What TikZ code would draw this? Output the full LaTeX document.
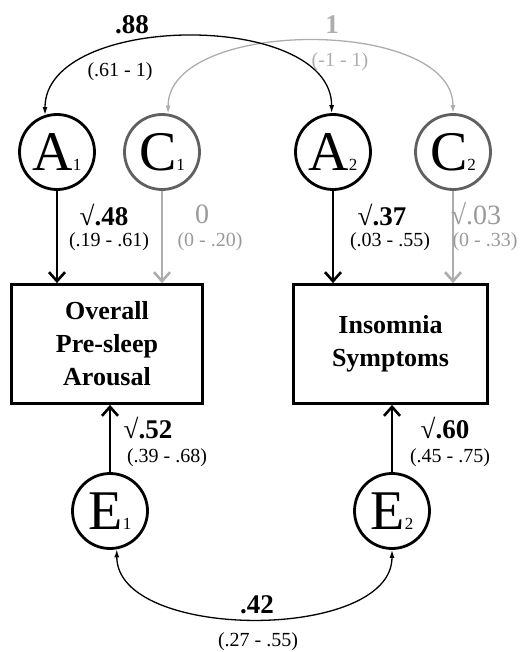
\documentclass[tikz,border=0pt]{standalone}
\usepackage{fontspec}
\setmainfont{Liberation Serif}
\usetikzlibrary{arrows.meta}

\definecolor{lightgr}{HTML}{ADADAD}
\definecolor{midgr}{HTML}{9A9A9A}
\definecolor{darkgr}{HTML}{606060}
\newcommand{\lat}[2]{{\fontsize{56}{56}\selectfont #1}{\fontsize{17}{17}\selectfont #2}}

\tikzset{
  latent/.style={circle, draw, line width=2.8pt, minimum size=75pt, inner sep=0pt},
  obsbox/.style={draw, line width=2.8pt, minimum height=119pt, align=center,
    font=\fontsize{26}{33}\selectfont\bfseries},
  loadarr/.style={line width=2.6pt, -{Straight Barb[length=9pt,width=16pt]}},
  covarr/.style={line width=1.3pt, {Latex[length=8pt,width=5pt]}-{Latex[length=8pt,width=5pt]}},
  valb/.style={font=\fontsize{27}{27}\selectfont\bfseries, inner sep=0pt},
  valr/.style={font=\fontsize{28}{28}\selectfont, inner sep=0pt},
  ci/.style={font=\fontsize{20}{20}\selectfont, inner sep=0pt}
}

\begin{document}
\begin{tikzpicture}[x=1pt, y=-1pt]
\useasboundingbox (0,0) rectangle (529,652);

% latent factors
\node[latent] (A1) at (57,152) {\lat{A}{1}};
\node[latent, darkgr, text=black] (C1) at (162,152) {\lat{C}{1}};
\node[latent] (A2) at (333,152) {\lat{A}{2}};
\node[latent, darkgr, text=black] (C2) at (453,152) {\lat{C}{2}};
\node[latent] (E1) at (110,511) {\lat{E}{1}};
\node[latent] (E2) at (392,511) {\lat{E}{2}};

% observed variables
\node[obsbox, minimum width=191pt] (PSA) at (107,344) {Overall\\Pre-sleep\\Arousal};
\node[obsbox, minimum width=194pt] (INS) at (390.5,344) {Insomnia\\Symptoms};

% paths
\draw[loadarr] (A1.south) -- (A1 |- PSA.north);
\draw[loadarr, lightgr] (C1.south) -- (C1 |- PSA.north);
\draw[loadarr] (A2.south) -- (A2 |- INS.north);
\draw[loadarr, lightgr] (C2.south) -- (C2 |- INS.north);
\draw[loadarr] (E1.north) -- (E1 |- PSA.south);
\draw[loadarr] (E2.north) -- (E2 |- INS.south);

% correlations
\draw[covarr, lightgr] (C1.81) .. controls +(0,-96) and +(0,-96) .. (C2.north);
\draw[covarr] (A1.108) .. controls +(0,-103) and +(0,-103) .. (A2.92);
\draw[covarr] (E1.-80) .. controls +(0,92) and +(0,92) .. (E2.south);

% estimates
\node[valb] (rA) at (132,25) {.88};
\node[ci] (rAci) at (120,72) {(.61 - 1)};
\node[valb, lightgr] (rC) at (332,25) {1};
\node[ci, lightgr] (rCci) at (340,62) {(-1 - 1)};

\node[valb] (a1) at (104,215) {√.48};
\node[ci] (a1ci) at (109,242) {(.19 - .61)};
\node[valr, midgr] (c1) at (202,214) {0};
\node[ci, midgr] (c1ci) at (210,242) {(0 - .20)};
\node[valb] (a2) at (382,215) {√.37};
\node[ci] (a2ci) at (390,242) {(.03 - .55)};
\node[valr, midgr] (c2) at (476,214) {√.03};
\node[ci, midgr] (c2ci) at (485,242) {(0 - .33)};

\node[valb] (e1) at (148,428) {√.52};
\node[ci] (e1ci) at (167,458) {(.39 - .68)};
\node[valb] (e2) at (445,428) {√.60};
\node[ci] (e2ci) at (450,458) {(.45 - .75)};

\node[valb] (rE) at (257,605) {.42};
\node[ci] (rEci) at (258,642) {(.27 - .55)};
\end{tikzpicture}
\end{document}
